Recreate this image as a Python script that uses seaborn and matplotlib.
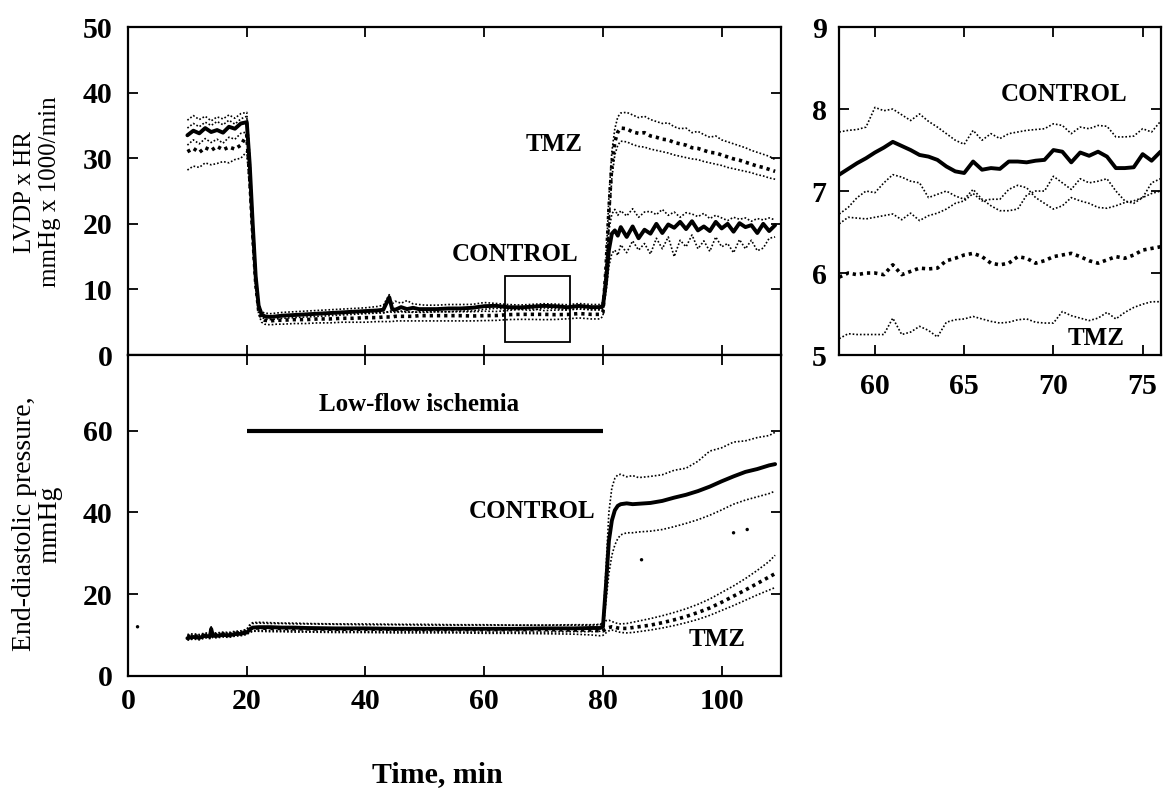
import matplotlib
matplotlib.use("Agg")
import matplotlib.pyplot as plt
import seaborn as sns
from matplotlib.patches import Rectangle

# ---------------- data ----------------
# Top panel: LVDP x HR (mmHg x 1000/min)
t_top = [10, 11, 12, 13, 14, 15, 16, 17, 18, 19, 20, 20.5, 21, 21.5, 22, 22.5, 23, 24, 25, 26,
         28, 30, 32, 34, 36, 38, 40, 42, 43, 44, 44.5, 45, 46, 47, 48, 49, 50,
         52, 54, 56, 58, 60, 62, 64, 66, 68, 70, 72, 74, 76, 78,
         79.5, 80, 80.5, 81, 81.5, 82, 82.5, 83,
         84, 85, 86, 87, 88, 89, 90, 91, 92, 93, 94, 95, 96, 97, 98, 99,
         100, 101, 102, 103, 104, 105, 106, 107, 108, 109]

ctrl_top_mean = [33.5, 34.2, 33.8, 34.6, 34.0, 34.3, 33.9, 34.8, 34.5, 35.3, 35.5, 29.0, 20.0, 12.0, 7.5, 6.2, 5.9, 5.8, 5.9, 6.0,
                 6.1, 6.2, 6.3, 6.4, 6.5, 6.6, 6.7, 6.8, 6.9, 8.8, 7.0, 6.9, 7.3, 7.0, 7.2, 7.0, 7.0,
                 7.0, 7.1, 7.1, 7.2, 7.45, 7.5, 7.3, 7.26, 7.36, 7.5, 7.43, 7.28, 7.48, 7.3,
                 7.3, 7.5, 11.0, 16.0, 18.5, 19.0, 18.2, 19.5,
                 18.0, 19.6, 17.8, 19.1, 18.5, 20.0, 18.6, 19.9, 19.4, 20.3, 19.2, 20.4, 19.0, 19.6, 18.9, 20.3,
                 19.3, 20.0, 18.8, 20.1, 19.5, 19.8, 18.6, 20.0, 18.9, 19.8]
ctrl_top_hi = [35.8, 36.5, 35.9, 36.4, 35.7, 36.3, 36.0, 36.6, 36.1, 36.8, 37.0, 30.5, 21.0, 12.8, 8.0, 6.6, 6.4, 6.3, 6.4, 6.5,
               6.6, 6.7, 6.8, 6.9, 7.0, 7.1, 7.2, 7.4, 7.6, 9.2, 7.8, 8.2, 7.9, 8.3, 7.8, 7.7, 7.6,
               7.6, 7.7, 7.7, 7.72, 8.0, 7.86, 7.7, 7.62, 7.72, 7.82, 7.76, 7.66, 7.85, 7.7,
               7.7, 8.0, 13.0, 19.0, 21.5, 22.2, 21.3, 22.0,
               21.2, 22.3, 21.0, 21.8, 21.9, 21.4, 22.2, 21.3, 21.8, 21.0, 21.7, 21.5, 21.1, 21.6, 20.8, 21.3,
               20.9, 20.5, 21.0, 20.7, 20.9, 20.4, 20.8, 20.6, 20.9, 20.6]
ctrl_top_lo = [32.0, 32.8, 32.2, 33.0, 32.4, 32.9, 32.3, 33.2, 32.9, 33.8, 34.0, 27.5, 19.0, 11.5, 7.0, 5.8, 5.5, 5.4, 5.5, 5.6,
               5.7, 5.8, 5.9, 6.0, 6.1, 6.2, 6.3, 6.4, 6.4, 6.6, 6.5, 6.5, 6.6, 6.5, 6.6, 6.5, 6.5,
               6.6, 6.6, 6.7, 6.72, 6.98, 7.12, 7.0, 6.93, 6.8, 7.18, 7.1, 6.85, 7.15, 6.9,
               6.9, 7.0, 9.5, 13.5, 15.5, 16.0, 15.2, 16.8,
               15.6, 17.4, 16.0, 17.0, 15.4, 17.8, 16.2, 18.0, 15.0, 17.5, 16.5, 18.3, 16.2, 17.4, 15.8, 18.0,
               16.5, 17.0, 15.6, 17.6, 16.2, 17.5, 15.9, 16.3, 17.8, 18.0]
tmz_top_hi = [34.6, 35.3, 34.8, 35.5, 35.0, 35.6, 35.1, 35.8, 35.2, 36.0, 36.4, 29.5, 20.5, 12.3, 7.6, 6.2, 5.9, 5.8, 5.9, 6.0,
              6.0, 6.1, 6.2, 6.3, 6.3, 6.4, 6.4, 6.5, 6.5, 6.6, 6.8, 6.6, 6.7, 6.6, 6.5, 6.6, 6.6,
              6.6, 6.6, 6.6, 6.6, 6.68, 6.64, 6.78, 6.98, 7.06, 6.78, 6.85, 6.88, 7.0, 6.9,
              6.9, 7.2, 14.0, 24.0, 31.0, 34.5, 36.3, 36.9,
              37.0, 36.6, 36.2, 36.4, 35.9, 35.6, 35.3, 35.4, 34.8, 34.5, 34.6, 33.9, 34.1, 33.6, 33.2, 33.4,
              32.8, 32.5, 32.2, 31.9, 31.6, 31.2, 30.9, 30.6, 30.3, 29.8]
tmz_top_mean = [31.0, 31.5, 30.9, 31.6, 31.2, 31.8, 31.3, 31.7, 31.4, 32.0, 33.5, 27.0, 18.5, 11.0, 6.8, 5.6, 5.3, 5.2, 5.3, 5.3,
                5.4, 5.4, 5.5, 5.5, 5.6, 5.6, 5.7, 5.7, 5.8, 5.8, 5.8, 5.9, 5.9, 5.9, 5.9, 6.0, 6.0,
                6.0, 6.0, 6.0, 5.95, 6.0, 6.02, 6.15, 6.2, 6.2, 6.2, 6.15, 6.18, 6.32, 6.2,
                6.2, 6.5, 13.0, 22.0, 29.0, 32.5, 34.0, 34.6,
                34.5, 34.0, 33.8, 33.9, 33.4, 33.2, 32.9, 32.8, 32.4, 32.2, 32.0, 31.6, 31.5, 31.2, 30.9, 30.8,
                30.5, 30.2, 29.9, 29.7, 29.4, 29.1, 28.8, 28.6, 28.3, 28.0]
tmz_top_lo = [28.2, 28.8, 28.6, 29.3, 29.0, 29.2, 29.5, 29.3, 29.8, 30.0, 31.0, 25.0, 17.0, 10.2, 6.2, 5.0, 4.7, 4.6, 4.7, 4.7,
              4.8, 4.8, 4.9, 4.9, 5.0, 5.0, 5.0, 5.1, 5.1, 5.1, 5.1, 5.2, 5.2, 5.2, 5.2, 5.2, 5.2,
              5.2, 5.2, 5.2, 5.2, 5.25, 5.28, 5.4, 5.44, 5.43, 5.39, 5.42, 5.52, 5.65, 5.5,
              5.5, 5.9, 12.0, 20.0, 27.0, 30.5, 32.0, 32.6,
              32.5, 32.1, 31.8, 31.7, 31.4, 31.2, 31.0, 30.8, 30.5, 30.3, 30.1, 29.9, 29.8, 29.5, 29.3, 29.1,
              28.9, 28.6, 28.4, 28.2, 28.0, 27.8, 27.5, 27.3, 27.0, 26.8]

# Inset: enlarged 58-76 min of the top panel
t_inset = [58, 58.5, 59, 59.5, 60, 60.5, 61, 61.5, 62, 62.5, 63, 63.5, 64, 64.5, 65, 65.5, 66, 66.5,
           67, 67.5, 68, 68.5, 69, 69.5, 70, 70.5, 71, 71.5, 72, 72.5, 73, 73.5, 74, 74.5, 75, 75.5, 76]
ctrl_in_hi = [7.72, 7.74, 7.75, 7.78, 8.02, 7.98, 8.0, 7.93, 7.86, 7.94, 7.85, 7.78, 7.7, 7.62, 7.57, 7.74, 7.62, 7.7,
              7.64, 7.7, 7.72, 7.74, 7.75, 7.76, 7.82, 7.8, 7.7, 7.78, 7.76, 7.8, 7.79, 7.66, 7.66, 7.67, 7.76, 7.72, 7.85]
ctrl_in_mean = [7.2, 7.27, 7.34, 7.4, 7.47, 7.53, 7.6, 7.55, 7.5, 7.44, 7.42, 7.38, 7.3, 7.24, 7.22, 7.36, 7.26, 7.28,
                7.27, 7.36, 7.36, 7.35, 7.37, 7.38, 7.5, 7.48, 7.35, 7.47, 7.43, 7.48, 7.42, 7.28, 7.28, 7.29, 7.45, 7.37, 7.48]
ctrl_in_lo = [6.72, 6.8, 6.92, 7.0, 6.98, 7.1, 7.2, 7.17, 7.12, 7.1, 6.92, 6.96, 7.0, 6.94, 6.9, 7.02, 6.9, 6.82,
              6.76, 6.76, 6.78, 6.95, 7.0, 7.0, 7.18, 7.1, 7.02, 7.15, 7.1, 7.12, 7.15, 7.0, 6.88, 6.85, 6.92, 7.1, 7.15]
tmz_in_hi = [6.6, 6.68, 6.67, 6.66, 6.68, 6.7, 6.72, 6.65, 6.73, 6.64, 6.7, 6.73, 6.78, 6.85, 6.88, 6.97, 6.88, 6.9,
             6.9, 7.02, 7.07, 7.04, 6.92, 6.85, 6.78, 6.82, 6.92, 6.88, 6.85, 6.8, 6.79, 6.82, 6.86, 6.88, 6.92, 6.97, 7.0]
tmz_in_mean = [5.95, 6.0, 5.98, 6.0, 6.0, 5.98, 6.1, 5.98, 6.02, 6.06, 6.05, 6.06, 6.15, 6.18, 6.22, 6.24, 6.2, 6.12,
               6.1, 6.12, 6.2, 6.18, 6.12, 6.15, 6.2, 6.22, 6.24, 6.2, 6.15, 6.12, 6.16, 6.2, 6.18, 6.22, 6.28, 6.3, 6.32]
tmz_in_lo = [5.2, 5.26, 5.25, 5.25, 5.25, 5.25, 5.45, 5.25, 5.28, 5.35, 5.3, 5.22, 5.4, 5.43, 5.44, 5.47, 5.44, 5.41,
             5.39, 5.4, 5.43, 5.44, 5.4, 5.39, 5.39, 5.53, 5.48, 5.45, 5.42, 5.45, 5.52, 5.44, 5.52, 5.58, 5.62, 5.65, 5.65]

# Bottom panel: end-diastolic pressure (mmHg)
t_bot = [10, 11, 12, 13, 13.8, 14, 14.3, 15, 16, 17, 18, 19, 20, 20.5, 21, 22, 24, 26, 28, 30,
         35, 40, 45, 50, 55, 60, 65, 70, 75, 78, 79.5, 80, 80.5, 81, 81.5, 82, 82.5, 83,
         84, 85, 86, 88, 90, 92, 94, 96, 98, 100, 102, 104, 106, 108, 109]
ctrl_bot_mean = [9.2, 9.5, 9.3, 9.8, 9.6, 11.5, 9.8, 9.8, 10.0, 9.9, 10.2, 10.3, 10.6, 11.3, 11.8, 11.9, 11.9, 11.8, 11.8, 11.7,
                 11.6, 11.6, 11.5, 11.5, 11.5, 11.5, 11.5, 11.6, 11.6, 11.7, 11.7, 12.0, 22.0, 33.0, 38.0, 40.5, 41.6, 42.0,
                 42.2, 42.0, 42.1, 42.3, 42.8, 43.6, 44.3, 45.2, 46.3, 47.6, 48.8, 49.9, 50.6, 51.5, 51.8]
ctrl_bot_hi = [9.8, 10.0, 9.9, 10.3, 10.1, 12.0, 10.3, 10.3, 10.5, 10.4, 10.7, 10.8, 11.2, 12.2, 12.8, 12.9, 12.8, 12.8, 12.7, 12.7,
               12.6, 12.5, 12.5, 12.4, 12.4, 12.4, 12.4, 12.4, 12.5, 12.5, 12.6, 13.0, 26.0, 40.0, 46.0, 48.3, 49.2, 49.3,
               48.7, 49.0, 48.5, 48.8, 49.2, 50.3, 50.8, 52.5, 55.0, 55.8, 57.2, 57.5, 58.3, 58.8, 59.6]
ctrl_bot_lo = [8.7, 9.0, 8.8, 9.3, 9.1, 11.0, 9.3, 9.3, 9.5, 9.4, 9.7, 9.8, 10.1, 10.6, 11.0, 11.1, 11.1, 11.0, 11.0, 10.9,
               10.9, 10.8, 10.8, 10.8, 10.7, 10.7, 10.7, 10.7, 10.8, 10.8, 10.9, 11.2, 18.0, 25.0, 29.5, 32.0, 33.6, 34.5,
               35.0, 35.0, 35.2, 35.4, 35.8, 36.5, 37.3, 38.2, 39.3, 40.6, 42.0, 43.0, 43.8, 44.6, 45.2]
tmz_bot_hi = [10.1, 10.3, 10.1, 10.5, 10.4, 10.9, 10.5, 10.5, 10.7, 10.6, 10.9, 11.0, 11.4, 12.5, 13.0, 13.1, 13.0, 12.9, 12.9, 12.8,
              12.7, 12.7, 12.6, 12.6, 12.5, 12.5, 12.4, 12.4, 12.4, 12.4, 12.5, 12.6, 13.5, 13.6, 13.3, 13.0, 12.8, 12.7,
              12.8, 13.1, 13.4, 14.0, 14.7, 15.5, 16.4, 17.5, 18.8, 20.4, 22.0, 23.8, 25.8, 28.0, 29.5]
tmz_bot_mean = [9.6, 9.8, 9.6, 10.0, 9.9, 10.4, 10.0, 10.0, 10.2, 10.1, 10.4, 10.5, 10.8, 11.4, 11.7, 11.7, 11.6, 11.6, 11.5, 11.5,
                11.4, 11.4, 11.4, 11.3, 11.3, 11.3, 11.3, 11.3, 11.2, 11.2, 11.0, 11.0, 11.4, 11.8, 12.0, 11.9, 11.7, 11.6,
                11.6, 11.8, 12.0, 12.4, 13.0, 13.7, 14.5, 15.5, 16.6, 18.0, 19.5, 21.0, 22.6, 24.2, 25.0]
tmz_bot_lo = [9.1, 9.3, 9.1, 9.5, 9.4, 9.9, 9.5, 9.5, 9.7, 9.6, 9.9, 10.0, 10.3, 10.6, 10.9, 10.9, 10.8, 10.8, 10.7, 10.7,
              10.6, 10.6, 10.5, 10.5, 10.5, 10.4, 10.4, 10.3, 10.2, 10.0, 9.8, 9.9, 10.5, 11.0, 11.2, 11.0, 10.8, 10.6,
              10.5, 10.6, 10.8, 11.2, 11.7, 12.3, 13.0, 13.8, 14.8, 16.0, 17.2, 18.5, 19.8, 21.0, 21.6]
# stray specks in the scanned original (bottom panel)
speck_t = [1.6, 86.5, 102.0, 104.3]
speck_v = [12.0, 28.4, 35.0, 35.8]

ischemia = [20, 80]          # low-flow ischemia period (min)
ischemia_bar_level = 60      # mmHg, where the bar is drawn
zoom_box_t = [63.5, 74.5]    # region enlarged in the inset
zoom_box_v = [2, 12]

x_ticks = [0, 20, 40, 60, 80, 100]
top_y_ticks = [0, 10, 20, 30, 40, 50]
bot_y_ticks = [0, 20, 40, 60]
in_x_ticks = [60, 65, 70, 75]
in_y_ticks = [5, 6, 7, 8, 9]

# ---------------- style ----------------
sns.set_style("ticks")
plt.rcParams['font.family'] = ['Liberation Serif', 'DejaVu Serif']
plt.rcParams['axes.linewidth'] = 1.6
plt.rcParams['axes.edgecolor'] = 'black'

SOLID = dict(color='k', lw=2.8, linestyle='-')
MEAN_DOT = dict(color='k', lw=2.6, linestyle=(0, (0.9, 1.1)))
SEM_DOT = dict(color='k', lw=1.2, linestyle=(0, (1, 1.2)))

fig = plt.figure(figsize=(11.64, 7.96), dpi=100)
ax_top = fig.add_axes([0.110, 0.554, 0.561, 0.412])
ax_bot = fig.add_axes([0.110, 0.151, 0.561, 0.403])
ax_in = fig.add_axes([0.721, 0.554, 0.276, 0.412])


def draw(ax, t, series):
    for vals, st in series:
        sns.lineplot(x=t, y=vals, ax=ax, legend=False, **st)


draw(ax_top, t_top, [(ctrl_top_hi, SEM_DOT), (ctrl_top_lo, SEM_DOT), (tmz_top_hi, SEM_DOT),
                     (tmz_top_lo, SEM_DOT), (tmz_top_mean, MEAN_DOT), (ctrl_top_mean, SOLID)])
draw(ax_bot, t_bot, [(ctrl_bot_hi, SEM_DOT), (ctrl_bot_lo, SEM_DOT), (tmz_bot_hi, SEM_DOT),
                     (tmz_bot_lo, SEM_DOT), (tmz_bot_mean, MEAN_DOT), (ctrl_bot_mean, SOLID)])
draw(ax_in, t_inset, [(ctrl_in_hi, SEM_DOT), (ctrl_in_lo, SEM_DOT), (tmz_in_hi, SEM_DOT),
                      (tmz_in_lo, SEM_DOT), (tmz_in_mean, MEAN_DOT), (ctrl_in_mean, SOLID)])

sns.scatterplot(x=speck_t, y=speck_v, ax=ax_bot, color='k', s=6, edgecolor='none', legend=False)

# ischemia bar and zoom box
ax_bot.hlines(ischemia_bar_level, ischemia[0], ischemia[1], color='k', lw=3)
ax_top.add_patch(Rectangle((zoom_box_t[0], zoom_box_v[0]), zoom_box_t[1] - zoom_box_t[0],
                           zoom_box_v[1] - zoom_box_v[0], fill=False, ec='k', lw=1.3))

# axes limits & ticks
TICK_FONT = dict(fontsize=21.5, fontweight='bold')
for ax in (ax_top, ax_bot):
    ax.set_xlim(0, 110)
    ax.set_xticks(x_ticks, [str(v) for v in x_ticks], **TICK_FONT)
ax_top.set_ylim(0, 50)
ax_top.set_yticks(top_y_ticks, [str(v) for v in top_y_ticks], **TICK_FONT)
ax_bot.set_ylim(0, 78.5)
ax_bot.set_yticks(bot_y_ticks, [str(v) for v in bot_y_ticks], **TICK_FONT)
ax_in.set_xlim(58, 76)
ax_in.set_ylim(5, 9)
ax_in.set_xticks(in_x_ticks, [str(v) for v in in_x_ticks], **TICK_FONT)
ax_in.set_yticks(in_y_ticks, [str(v) for v in in_y_ticks], **TICK_FONT)

for ax in (ax_top, ax_bot, ax_in):
    ax.tick_params(direction='in', length=7, width=1.3, top=True, right=True, colors='k')
    ax.tick_params(axis='y', pad=11)
    ax.set_xlabel('')
    ax.set_ylabel('')
    for s in ax.spines.values():
        s.set_visible(True)
        s.set_linewidth(1.6)
ax_top.tick_params(axis='x', labelbottom=False)
ax_bot.tick_params(axis='x', pad=9)
ax_in.tick_params(axis='x', pad=13)
ax_in.tick_params(axis='y', pad=9)

# annotations
ANN = dict(fontsize=18, fontweight='bold', ha='center', va='center', color='k')
ax_top.text(71.7, 32.1, 'TMZ', **ANN)
ax_top.text(65.2, 15.3, 'CONTROL', **ANN)
ax_bot.text(49.0, 66.5, 'Low-flow ischemia', **ANN)
ax_bot.text(68.0, 40.3, 'CONTROL', **ANN)
ax_bot.text(99.3, 9.0, 'TMZ', **ANN)
ax_in.text(70.6, 8.18, 'CONTROL', **ANN)
ax_in.text(72.4, 5.2, 'TMZ', **ANN)

# axis titles
fig.text(25 / 1164, 1 - 192 / 796, 'LVDP x HR', fontsize=18, rotation=90, ha='center', va='center', color='k')
fig.text(50 / 1164, 1 - 192 / 796, 'mmHg x 1000/min', fontsize=18, rotation=90, ha='center', va='center', color='k')
fig.text(25 / 1164, 1 - 524 / 796, 'End-diastolic pressure,', fontsize=20, rotation=90, ha='center', va='center', color='k')
fig.text(50 / 1164, 1 - 524 / 796, 'mmHg', fontsize=20, rotation=90, ha='center', va='center', color='k')
fig.text(437 / 1164, 1 - 775 / 796, 'Time, min', fontsize=21.5, fontweight='bold',
         ha='center', va='center', color='k')

fig.savefig('out.png', dpi=100, facecolor='white')
